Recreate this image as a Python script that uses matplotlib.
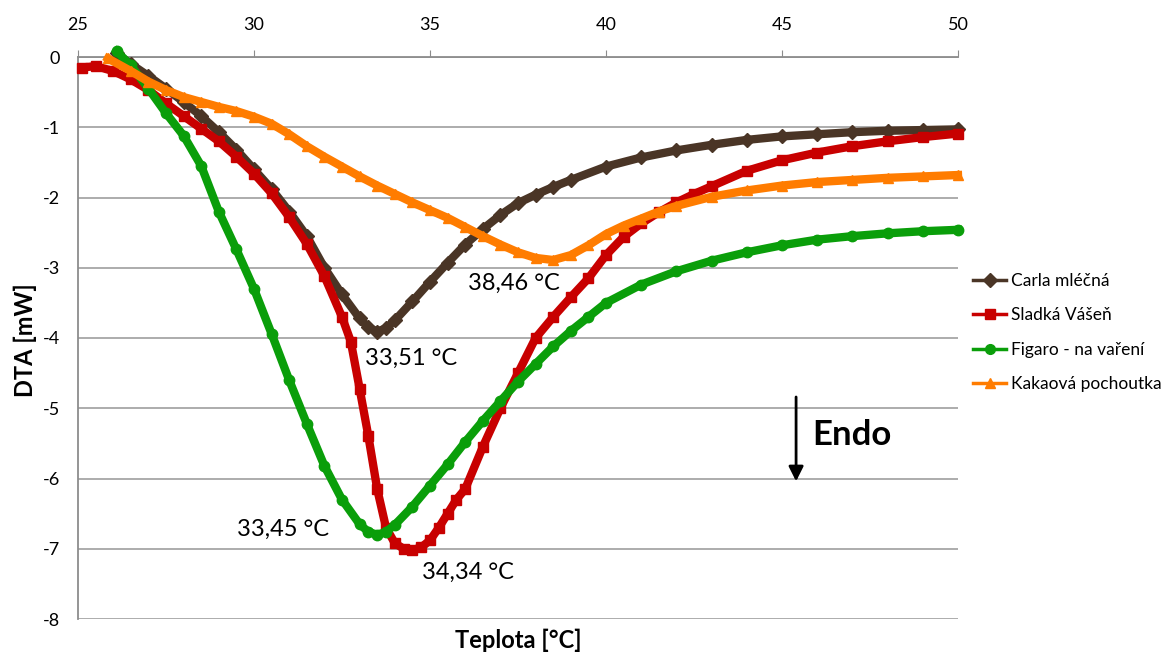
import numpy as np
import matplotlib.pyplot as plt
from matplotlib.lines import Line2D

plt.rcParams['font.family'] = ['Lato', 'DejaVu Sans']
plt.rcParams['axes.unicode_minus'] = False

# Carla mléčná
t_carla = [26.1, 26.5, 27, 27.5, 28, 28.5, 29, 29.5, 30, 30.5, 31, 31.5, 32, 32.5, 33, 33.25,
           33.5, 33.75, 34, 34.5, 35, 35.5, 36, 36.5, 37, 37.5, 38, 38.5, 39, 40, 41, 42, 43,
           44, 45, 46, 47, 48, 49, 50]
d_carla = [0.05, -0.1, -0.27, -0.45, -0.64, -0.84, -1.07, -1.32, -1.6, -1.88, -2.2, -2.55, -3.0,
           -3.38, -3.72, -3.85, -3.91, -3.86, -3.75, -3.48, -3.2, -2.93, -2.67, -2.45, -2.25,
           -2.08, -1.96, -1.85, -1.75, -1.56, -1.43, -1.33, -1.25, -1.18, -1.13, -1.1, -1.07,
           -1.05, -1.04, -1.03]

# Sladká Vášeň
t_sladka = [25.1, 25.5, 26, 26.5, 27, 27.5, 28, 28.5, 29, 29.5, 30, 30.5, 31, 31.5, 32, 32.5,
            32.75, 33, 33.25, 33.5, 33.75, 34, 34.25, 34.5, 34.75, 35, 35.25, 35.5, 35.75, 36,
            36.5, 37, 37.5, 38, 38.5, 39, 39.5, 40, 40.5, 41, 41.5, 42, 42.5, 43, 44, 45, 46,
            47, 48, 49, 50]
d_sladka = [-0.15, -0.13, -0.2, -0.32, -0.47, -0.66, -0.84, -1.02, -1.2, -1.42, -1.66, -1.94,
            -2.28, -2.66, -3.12, -3.7, -4.05, -4.72, -5.4, -6.15, -6.7, -6.92, -7.0, -7.02,
            -6.98, -6.88, -6.7, -6.5, -6.3, -6.15, -5.55, -5.0, -4.5, -4.0, -3.7, -3.42, -3.15,
            -2.82, -2.56, -2.37, -2.21, -2.07, -1.95, -1.84, -1.62, -1.47, -1.36, -1.27, -1.2,
            -1.14, -1.09]

# Figaro - na vaření
t_figaro = [26.1, 26.5, 27, 27.5, 28, 28.5, 29, 29.5, 30, 30.5, 31, 31.5, 32, 32.5, 33, 33.25,
            33.5, 33.75, 34, 34.5, 35, 35.5, 36, 36.5, 37, 37.5, 38, 38.5, 39, 39.5, 40, 41, 42,
            43, 44, 45, 46, 47, 48, 49, 50]
d_figaro = [0.08, -0.12, -0.45, -0.8, -1.12, -1.55, -2.2, -2.74, -3.3, -3.94, -4.6, -5.22, -5.82,
            -6.3, -6.65, -6.76, -6.8, -6.76, -6.66, -6.4, -6.1, -5.8, -5.48, -5.18, -4.9, -4.62,
            -4.37, -4.12, -3.9, -3.7, -3.5, -3.24, -3.05, -2.9, -2.78, -2.68, -2.6, -2.55, -2.51,
            -2.48, -2.46]

# Kakaová pochoutka
t_kakao = [25.85, 26.5, 27, 27.5, 28, 28.5, 29, 29.5, 30, 30.5, 31, 31.5, 32, 32.5, 33, 33.5,
           34, 34.5, 35, 35.5, 36, 36.5, 37, 37.5, 38, 38.5, 39, 39.5, 40, 40.5, 41, 41.5, 42,
           43, 44, 45, 46, 47, 48, 49, 50]
d_kakao = [-0.02, -0.2, -0.35, -0.47, -0.57, -0.64, -0.71, -0.77, -0.85, -0.95, -1.1, -1.27,
           -1.42, -1.56, -1.7, -1.83, -1.95, -2.07, -2.18, -2.29, -2.42, -2.55, -2.67, -2.78,
           -2.86, -2.89, -2.82, -2.68, -2.52, -2.4, -2.3, -2.2, -2.12, -1.99, -1.9, -1.83,
           -1.78, -1.75, -1.72, -1.7, -1.68]

names = ['Carla mléčná', 'Sladká Vášeň', 'Figaro - na vaření', 'Kakaová pochoutka']
colors = ['#4a3526', '#c80000', '#0a9e0a', '#ff7c00']
markers = ['D', 's', 'o', '^']
series = [(t_carla, d_carla), (t_sladka, d_sladka), (t_figaro, d_figaro), (t_kakao, d_kakao)]

peak_labels = ['33,51 °C', '34,34 °C', '33,45 °C', '38,46 °C']
peak_pos = [(33.15, -4.29), (34.77, -7.33), (29.52, -6.73), (36.08, -3.22)]

fig = plt.figure(figsize=(11.63, 6.53), dpi=100)
ax = fig.add_axes([78 / 1163, 1 - 619 / 653, 880 / 1163, 562 / 653])

for (t, d), c, m in zip(series, colors, markers):
    ax.plot(t, d, color=c, lw=6, marker=m, ms=7.5, mec=c, clip_on=False, zorder=3)

ax.set_xlim(25, 50)
ax.set_ylim(-8, 0)
ax.xaxis.tick_top()
ax.set_xticks(range(25, 51, 5))
ax.set_yticks(range(-8, 1))
ax.yaxis.grid(True, color='#a6a6a6', lw=1.3)
ax.set_axisbelow(True)
for s in ['right', 'bottom']:
    ax.spines[s].set_visible(False)
for s in ['top', 'left']:
    ax.spines[s].set_color('#8c8c8c')
    ax.spines[s].set_linewidth(1.3)
ax.tick_params(axis='x', length=5, color='#8c8c8c', labelsize=13, pad=12)
ax.tick_params(axis='y', length=0, labelsize=13, pad=13)

for txt, (x, y) in zip(peak_labels, peak_pos):
    ax.text(x, y, txt, fontsize=17, ha='left', va='center')

ax.annotate('', xy=(45.4, -6.08), xytext=(45.4, -4.8),
            arrowprops=dict(arrowstyle='-|>', color='k', lw=2, mutation_scale=22))
ax.text(45.85, -5.38, 'Endo', fontsize=25, fontweight='bold', va='center')

fig.text(25 / 1163, 1 - 340 / 653, 'DTA [mW]', rotation=90, fontsize=17,
         fontweight='bold', ha='center', va='center')
fig.text(518 / 1163, 1 - 640 / 653, 'Teplota [°C]', fontsize=17,
         fontweight='bold', ha='center', va='center')

handles = [Line2D([], [], color=c, marker=m, lw=2.5, ms=7) for c, m in zip(colors, markers)]
fig.legend(handles, names, loc='upper left', bbox_to_anchor=(968 / 1163, 1 - 268 / 653),
           frameon=False, fontsize=12.5, handlelength=1.9, handletextpad=0.3,
           labelspacing=1.05, borderaxespad=0, borderpad=0.3)

fig.savefig('out.png', dpi=100)
